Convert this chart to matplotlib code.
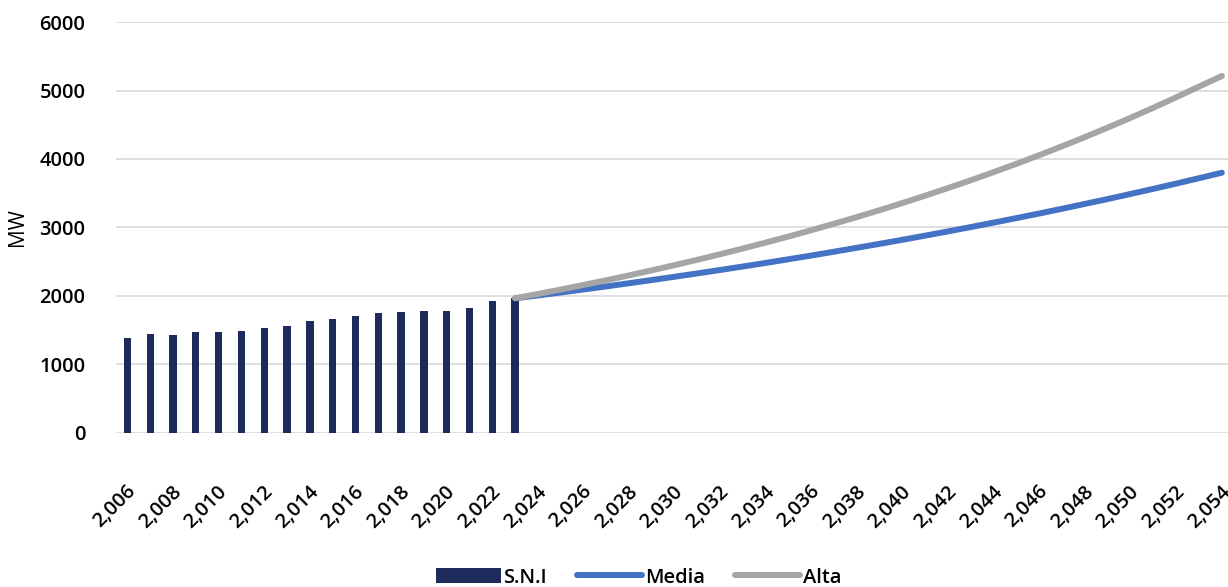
import matplotlib.pyplot as plt
import matplotlib.transforms as mtransforms
import numpy as np
from matplotlib.ticker import FuncFormatter

# historic demand (S.N.I) and the two projection scenarios, MW
hist_years = list(range(2006, 2024))
sni = [1382, 1445, 1431, 1479, 1470, 1494, 1533, 1562, 1630, 1669,
       1703, 1747, 1766, 1786, 1786, 1830, 1922, 1966]

proj_years = list(range(2023, 2055))
media = [1966, 2008, 2051, 2095, 2140, 2186, 2233, 2281, 2330, 2380,
         2431, 2483, 2537, 2591, 2647, 2704, 2762, 2821, 2882, 2944,
         3007, 3072, 3138, 3205, 3274, 3345, 3416, 3490, 3565, 3641,
         3720, 3800]
alta = [1966, 2029, 2094, 2161, 2230, 2301, 2375, 2451, 2529, 2610,
        2694, 2780, 2869, 2961, 3056, 3153, 3254, 3358, 3466, 3577,
        3691, 3809, 3931, 4057, 4187, 4321, 4459, 4602, 4749, 4901,
        5058, 5212]

plt.rcParams['font.family'] = ['Open Sans', 'DejaVu Sans']
plt.rcParams['font.weight'] = 'semibold'

fig = plt.figure(figsize=(12.28, 5.87), dpi=100)
ax = fig.add_axes([0.0945, 0.2624, 0.9098, 0.7001])

bars = ax.bar(hist_years, sni, width=0.32, color='#1F2A5C', label='S.N.I', zorder=2)
l_media, = ax.plot(proj_years, media, color='#4472C4', lw=4.3,
                   solid_capstyle='round', label='Media', zorder=3)
l_alta, = ax.plot(proj_years, alta, color='#A5A5A5', lw=4.3,
                  solid_capstyle='round', label='Alta', zorder=4)

ax.set_xlim(2005.5, 2054.5)
ax.set_ylim(0, 6000)
ax.set_yticks(np.arange(0, 6001, 1000))
ax.set_xticks(np.arange(2006, 2055, 2))
ax.xaxis.set_major_formatter(FuncFormatter(lambda v, p: f'{int(v):,}'))

ax.grid(axis='y', color='#D9D9D9', lw=1.2, zorder=0)
for s in ax.spines.values():
    s.set_visible(False)
ax.tick_params(axis='both', length=0, labelsize=14.5)
ax.tick_params(axis='y', pad=22)
ax.tick_params(axis='x', pad=40)

# nudge the slanted year labels a little to the right
shift = mtransforms.ScaledTranslation(4 / 72, 0, fig.dpi_scale_trans)
for lab in ax.get_xticklabels():
    lab.set_rotation(45)
    lab.set_ha('right')
    lab.set_va('center')
    lab.set_rotation_mode('anchor')
    lab.set_transform(lab.get_transform() + shift)

ax.set_ylabel('MW', fontsize=15, labelpad=8)

fig.legend(handles=[bars, l_media, l_alta], loc='center',
           bbox_to_anchor=(0.52, 0.016), ncol=3, frameon=False, fontsize=14.5,
           handlelength=3.2, handleheight=0.75, handletextpad=0.15,
           columnspacing=1.5)

fig.savefig('out.png', dpi=100)
